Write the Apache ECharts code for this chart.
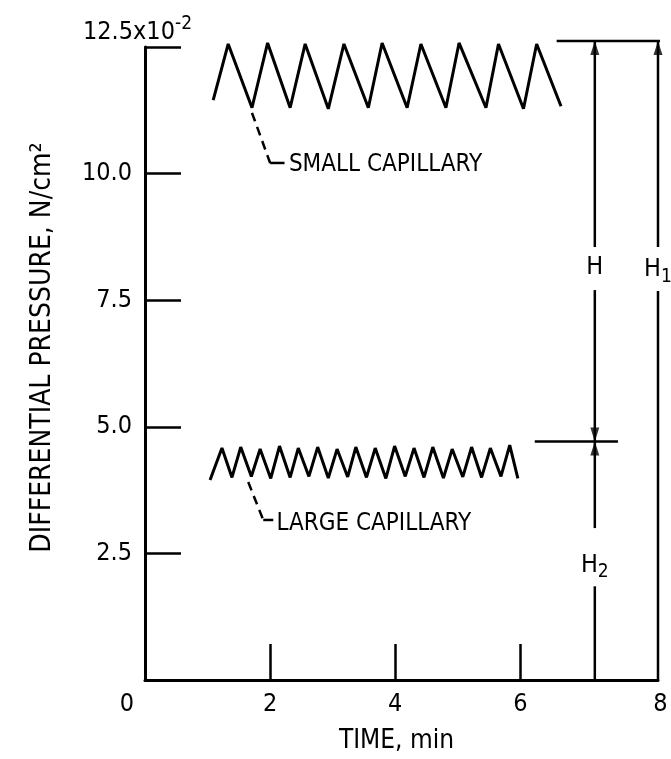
<!DOCTYPE html>
<html><head><meta charset="utf-8">
<script src="https://cdn.jsdelivr.net/npm/echarts/dist/echarts.min.js"></script>
<style>html,body{margin:0;padding:0;background:#fff}#c{width:671px;height:759px}</style>
</head><body><div id="c"></div>
<script>
// ---- data ----
const smallX = [1.09,1.33,1.71,1.96,2.32,2.56,2.93,3.18,3.57,3.79,4.19,4.41,4.81,5.02,5.45,5.65,6.05,6.26,6.65];
const smallY = [11.45,12.56,11.30,12.58,11.30,12.56,11.28,12.56,11.30,12.58,11.30,12.56,11.30,12.58,11.30,12.56,11.28,12.56,11.33];
const largeX = [1.04,1.23,1.39,1.53,1.70,1.84,2.01,2.15,2.32,2.45,2.62,2.76,2.93,3.07,3.24,3.37,3.54,3.68,3.85,3.99,4.16,4.30,4.46,4.60,4.77,4.91,5.08,5.22,5.38,5.52,5.69,5.83,5.96];
const largeY = [3.95,4.58,4.00,4.60,4.02,4.56,3.98,4.62,4.00,4.58,4.02,4.60,3.99,4.56,4.01,4.60,4.00,4.58,3.98,4.62,4.02,4.58,4.00,4.60,3.99,4.56,4.01,4.60,4.00,4.58,4.02,4.64,3.98];

const xTickValues = [0, 2, 4, 6, 8];
const xTickLabels = ['0', '2', '4', '6', '8'];
const xTickMarks = [2, 4, 6];
const yTickValues = [2.5, 5, 7.5, 10];
const yTickLabels = ['2.5', '5.0', '7.5', '10.0'];
const yTickMarks = [2.5, 5, 7.5, 10, 12.5];
const yTopLabel = '12.5x10';
const yTopExponent = '-2';
const xTitle = 'TIME, min';
const yTitle = 'DIFFERENTIAL PRESSURE, N/cm\u00B2';
const seriesNames = ['SMALL CAPILLARY', 'LARGE CAPILLARY'];

// annotation geometry in data units
const levelTop = 12.62, levelMid = 4.71;
const hX = 7.19, h1X = 8.2;
const dimSegments = [
  [[6.58, levelTop], [8.39, levelTop]],
  [[6.23, levelMid], [7.56, levelMid]],
  [[hX, levelTop], [hX, 8.55]],
  [[hX, 7.70], [hX, levelMid]],
  [[hX, levelMid], [hX, 3.00]],
  [[hX, 1.85], [hX, 0]],
  [[h1X, levelTop], [h1X, 8.55]],
  [[h1X, 7.68], [h1X, 0]],
  [[2.00, 10.21], [2.23, 10.21]],
  [[1.89, 3.16], [2.05, 3.16]]
];
const leaderSegments = [
  [[1.71, 11.20], [2.00, 10.21]],
  [[1.65, 3.91], [1.89, 3.16]]
];
const arrowTips = [[hX, levelTop, 'up'], [hX, levelMid, 'down'], [hX, levelMid, 'up'], [h1X, levelTop, 'up']];
const dimLabels = [['H', '', hX, 8.14], ['H', '1', h1X, 8.10], ['H', '2', hX, 2.27]];
const seriesLabelPos = [[2.30, 10.17], [2.10, 3.08]];

const FONT = "'DejaVu Sans Condensed','Liberation Sans Narrow','DejaVu Sans',sans-serif";
const BLACK = '#000';

function zip(xs, ys) { return xs.map((x, i) => [x, ys[i]]); }

const plainText = { color: BLACK, opacity: 1, textBorderWidth: 0, textShadowBlur: 0 };

const series = [];
series.push({ name: seriesNames[0], type: 'line', data: zip(smallX, smallY), symbol: 'none', clip: false,
  lineStyle: { color: BLACK, width: 3 }, z: 5 });
series.push({ name: seriesNames[1], type: 'line', data: zip(largeX, largeY), symbol: 'none', clip: false,
  lineStyle: { color: BLACK, width: 3 }, z: 5 });
dimSegments.forEach(seg => series.push({ type: 'line', data: seg, symbol: 'none', clip: false, silent: true,
  lineStyle: { color: BLACK, width: 2.5 } }));
leaderSegments.forEach(seg => series.push({ type: 'line', data: seg, symbol: 'none', clip: false, silent: true,
  lineStyle: { color: BLACK, width: 2.5, type: [9, 6] } }));
series.push({ type: 'scatter', clip: false, silent: true, z: 6,
  data: arrowTips.map(a => ({ value: [a[0], a[1]], symbol: 'triangle', symbolSize: [9, 14],
    symbolRotate: a[2] === 'up' ? 0 : 180, symbolOffset: [0, a[2] === 'up' ? '50%' : '-50%'] })),
  itemStyle: { color: BLACK } });
series.push({ type: 'scatter', clip: false, silent: true, symbolSize: 0, itemStyle: { color: BLACK },
  data: dimLabels.map(l => ({ value: [l[2], l[3]], name: l[0], sub: l[1] })),
  label: Object.assign({ show: true, position: 'inside', fontFamily: FONT,
    formatter: p => '{h|' + p.data.name + '}' + (p.data.sub ? '{s|' + p.data.sub + '}' : ''),
    backgroundColor: '#fff', padding: [3, 1, 3, 1],
    rich: { h: Object.assign({ fontSize: 25, fontFamily: FONT }, plainText),
            s: Object.assign({ fontSize: 19, fontFamily: FONT, padding: [14, 0, 0, 0] }, plainText) } }, plainText) });
series.push({ type: 'scatter', clip: false, silent: true, symbolSize: 0, itemStyle: { color: BLACK },
  data: seriesLabelPos.map((p, i) => ({ value: p, name: seriesNames[i] })),
  label: Object.assign({ show: true, position: 'right', distance: 0, fontFamily: FONT, fontSize: 24,
    formatter: p => p.name }, plainText) });

const tickRich = {
  n: { fontSize: 25, fontFamily: FONT, color: BLACK },
  l: { fontSize: 25, fontFamily: FONT, color: BLACK, padding: [0, 36, 0, 0] },
  r: { fontSize: 25, fontFamily: FONT, color: BLACK, padding: [0, 0, 0, 30] }
};

const option = {
  animation: false,
  backgroundColor: '#fff',
  grid: { left: 145, right: 13, top: 47, bottom: 79, outerBoundsMode: 'none' },
  xAxis: {
    type: 'value', min: 0, max: 8.2, interval: 2,
    axisLine: { lineStyle: { color: BLACK, width: 3 } },
    axisTick: { inside: true, length: 36, customValues: xTickMarks, lineStyle: { color: BLACK, width: 2.5 } },
    splitLine: { show: false },
    axisLabel: { color: BLACK, fontSize: 25, fontFamily: FONT, margin: 12, customValues: xTickValues, rich: tickRich,
      formatter: v => { const i = xTickValues.indexOf(v); if (i < 0) return '';
        const k = i === 0 ? 'l' : (i === xTickValues.length - 1 ? 'r' : 'n'); return '{' + k + '|' + xTickLabels[i] + '}'; } },
    name: xTitle, nameLocation: 'middle', nameGap: 48,
    nameTextStyle: { color: BLACK, fontSize: 26, fontFamily: FONT, padding: [0, 10, 0, 0] }
  },
  yAxis: [{
    type: 'value', min: 0, max: 12.5, interval: 2.5,
    axisLine: { lineStyle: { color: BLACK, width: 3 } },
    axisTick: { inside: true, length: 36, customValues: yTickMarks, lineStyle: { color: BLACK, width: 2.5 } },
    splitLine: { show: false },
    axisLabel: { color: BLACK, fontSize: 25, fontFamily: FONT, margin: 13, customValues: yTickValues,
      formatter: v => { const i = yTickValues.indexOf(v); return i >= 0 ? yTickLabels[i] : ''; } },
    name: '{a|' + yTopLabel + '}{b|' + yTopExponent + '}', nameLocation: 'end', nameGap: -3,
    nameTextStyle: { padding: [0, 15, 0, 0],
      rich: { a: { fontSize: 25, fontFamily: FONT, color: BLACK }, b: { fontSize: 19, fontFamily: FONT, color: BLACK, padding: [0, 0, 16, 0] } } }
  }, {
    type: 'value', min: 0, max: 12.5, position: 'left',
    axisLine: { show: false }, axisTick: { show: false }, axisLabel: { show: false }, splitLine: { show: false },
    name: yTitle, nameLocation: 'middle', nameGap: 88,
    nameTextStyle: { color: BLACK, fontSize: 28, fontFamily: FONT, padding: [0, 0, 0, 32] }
  }],
  series: series
};
const chart = echarts.init(document.getElementById('c'));
chart.setOption(option);
</script></body></html>
